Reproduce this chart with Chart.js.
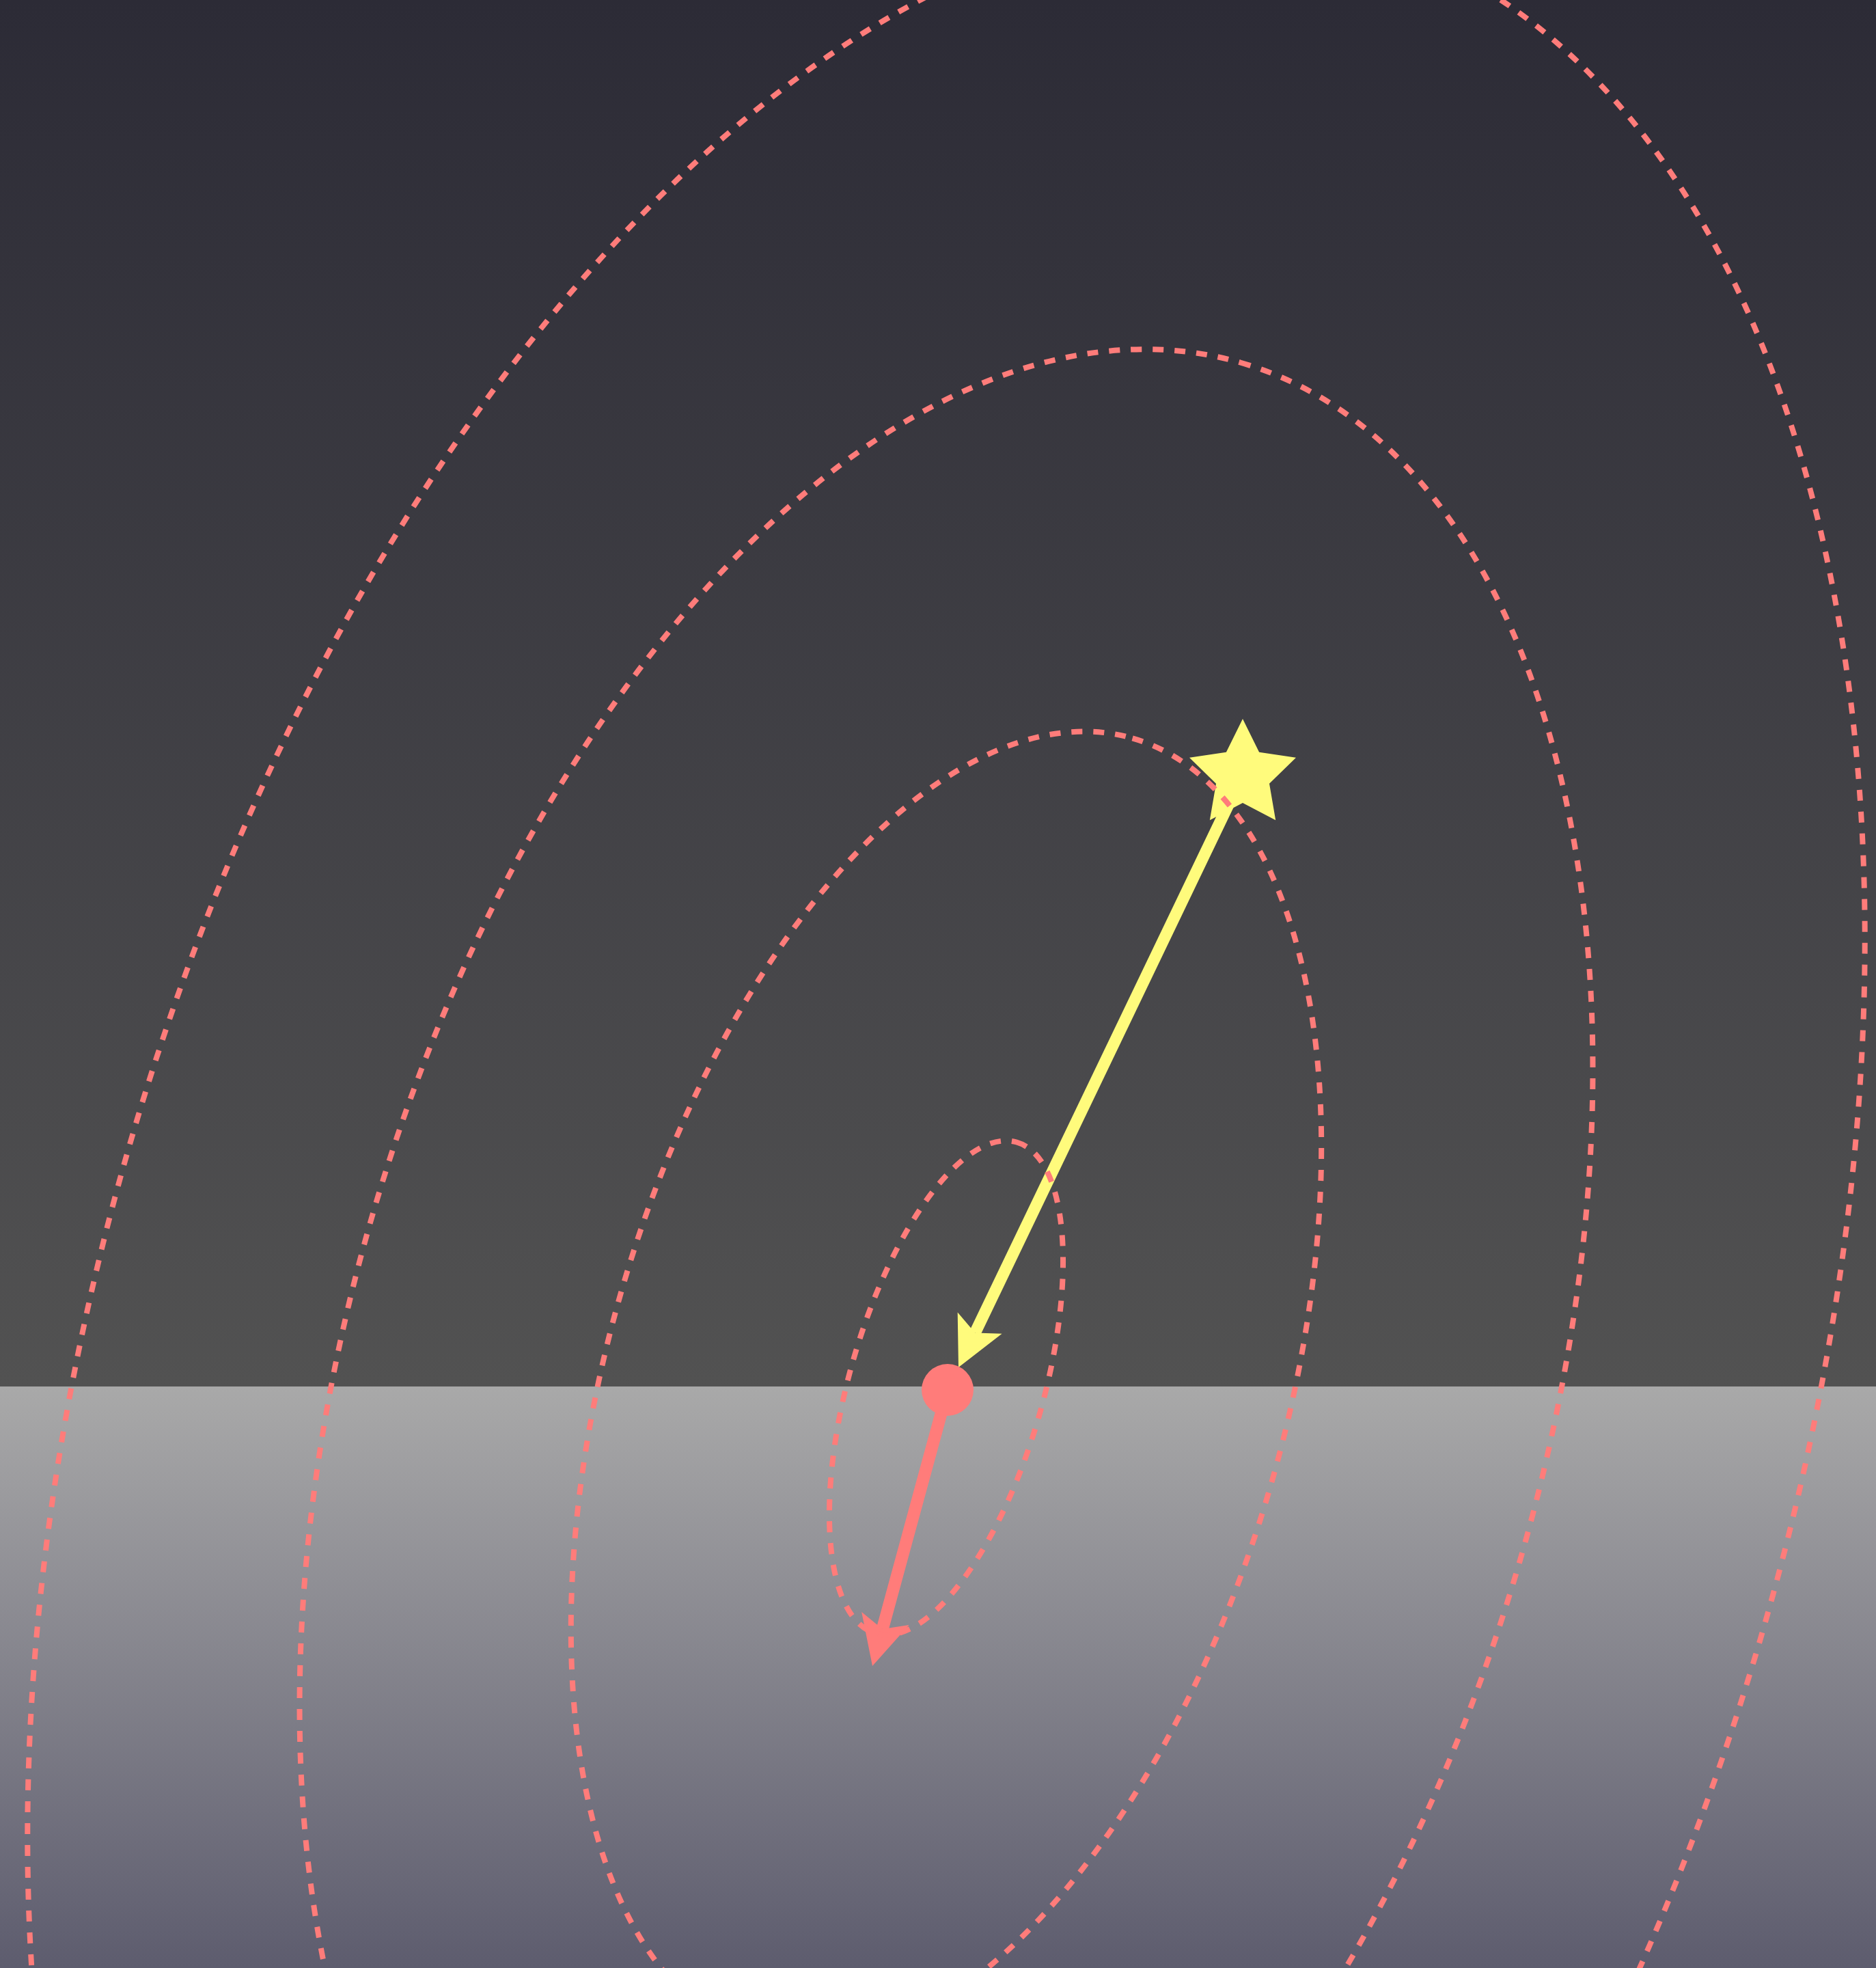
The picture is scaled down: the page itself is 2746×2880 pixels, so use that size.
<!DOCTYPE html>
<html>
<head>
<meta charset="utf-8">
<script src="https://cdn.jsdelivr.net/npm/chart.js@4.4.1/dist/chart.umd.min.js"></script>
<style>
    html, body { margin: 0; padding: 0; background: #2c2b36; }
    canvas { display: block; }
</style>
</head>
<body>
<canvas id="chart" width="2746" height="2880"></canvas>
<script>
// Data space: minimum sits near the origin, horizon at y = 0
const xRange = [-1386, 1360];
const yRange = [-851, 2029];

// Contour ellipses around the minimum (semi-axes, tilt of major axis in degrees)
const contourCenter = [-1, -2];
const contourMajor = [374, 989, 1561, 2211];
const contourMinor = [142, 496, 877, 1247];
const contourTilt = [74, 74, 74, 74];

// Points
const startPoint = [433, 895];      // star
const stepTip = [17, 28];           // yellow arrow tip
const minimumPoint = [1, -5];       // red dot
const gradientTip = [-109, -409];   // red arrow tip

const horizonY = 0;

const yellow = '#fffb7c';
const salmon = '#ff7c7a';

// Star image used as point style
function makeStar(outer, inner, color) {
    const c = document.createElement('canvas');
    const size = Math.ceil(outer * 2 + 4);
    c.width = size;
    c.height = size;
    const g = c.getContext('2d');
    g.fillStyle = color;
    g.beginPath();
    for (let i = 0; i < 10; i++) {
        const r = i % 2 === 0 ? outer : inner;
        const a = -Math.PI / 2 + i * Math.PI / 5;
        const px = size / 2 + r * Math.cos(a);
        const py = size / 2 + r * Math.sin(a);
        if (i === 0) g.moveTo(px, py); else g.lineTo(px, py);
    }
    g.closePath();
    g.fill();
    return c;
}

const starImage = makeStar(82, 41, yellow);

const headLength = 72;
const headHalfWidth = 36;
const headNotch = 56;

function arrowGeometry(chart, index) {
    const pts = chart.data.datasets[index].data;
    const xs = chart.scales.x, ys = chart.scales.y;
    const sx = xs.getPixelForValue(pts[0].x), sy = ys.getPixelForValue(pts[0].y);
    const tx = xs.getPixelForValue(pts[1].x), ty = ys.getPixelForValue(pts[1].y);
    const len = Math.hypot(tx - sx, ty - sy);
    const ux = (tx - sx) / len, uy = (ty - sy) / len;
    return { tx, ty, ux, uy, nx: -uy, ny: ux };
}

const diagramPlugin = {
    id: 'diagram',
    beforeDraw(chart) {
        const ctx = chart.ctx;
        const h = chart.scales.y.getPixelForValue(horizonY);
        const w = chart.width, H = chart.height;
        ctx.save();
        let g = ctx.createLinearGradient(0, 0, 0, h);
        g.addColorStop(0, '#2c2b36');
        g.addColorStop(1, '#525252');
        ctx.fillStyle = g;
        ctx.fillRect(0, 0, w, h);
        g = ctx.createLinearGradient(0, h, 0, H);
        g.addColorStop(0, '#a9a9a9');
        g.addColorStop(1, '#5d5c6e');
        ctx.fillStyle = g;
        ctx.fillRect(0, h, w, H - h);
        ctx.restore();
    },
    beforeDatasetDraw(chart, args) {
        const ds = chart.data.datasets[args.index];
        if (!ds.arrow) return;
        // cut the shaft at the arrowhead notch
        const a = arrowGeometry(chart, args.index);
        const bx = a.tx - a.ux * headNotch, by = a.ty - a.uy * headNotch;
        const big = 6000;
        const ctx = chart.ctx;
        ctx.save();
        ctx.beginPath();
        ctx.moveTo(bx + a.nx * big, by + a.ny * big);
        ctx.lineTo(bx - a.nx * big, by - a.ny * big);
        ctx.lineTo(bx - a.nx * big - a.ux * big, by - a.ny * big - a.uy * big);
        ctx.lineTo(bx + a.nx * big - a.ux * big, by + a.ny * big - a.uy * big);
        ctx.closePath();
        ctx.clip();
    },
    afterDatasetDraw(chart, args) {
        const ds = chart.data.datasets[args.index];
        if (!ds.arrow) return;
        const ctx = chart.ctx;
        ctx.restore();
        const a = arrowGeometry(chart, args.index);
        ctx.save();
        ctx.fillStyle = ds.borderColor;
        ctx.beginPath();
        ctx.moveTo(a.tx, a.ty);
        ctx.lineTo(a.tx - a.ux * headLength + a.nx * headHalfWidth, a.ty - a.uy * headLength + a.ny * headHalfWidth);
        ctx.lineTo(a.tx - a.ux * headNotch, a.ty - a.uy * headNotch);
        ctx.lineTo(a.tx - a.ux * headLength - a.nx * headHalfWidth, a.ty - a.uy * headLength - a.ny * headHalfWidth);
        ctx.closePath();
        ctx.fill();
        ctx.restore();
    },
    afterDatasetsDraw(chart) {
        const ctx = chart.ctx;
        const xs = chart.scales.x, ys = chart.scales.y;
        const cx = contourCenter[0], cy = contourCenter[1];
        const px = xs.getPixelForValue(cx), py = ys.getPixelForValue(cy);
        ctx.save();
        ctx.strokeStyle = salmon;
        ctx.lineWidth = 8;
        ctx.setLineDash([16, 16]);
        for (let i = 0; i < contourMajor.length; i++) {
            const t = contourTilt[i] * Math.PI / 180;
            const mx = xs.getPixelForValue(cx + contourMajor[i] * Math.cos(t));
            const my = ys.getPixelForValue(cy + contourMajor[i] * Math.sin(t));
            const nx = xs.getPixelForValue(cx - contourMinor[i] * Math.sin(t));
            const ny = ys.getPixelForValue(cy + contourMinor[i] * Math.cos(t));
            const rx = Math.hypot(mx - px, my - py);
            const ry = Math.hypot(nx - px, ny - py);
            const rot = Math.atan2(my - py, mx - px);
            ctx.beginPath();
            ctx.ellipse(px, py, rx, ry, rot, 0, Math.PI * 2);
            ctx.stroke();
        }
        ctx.restore();
    }
};

const ctx = document.getElementById('chart').getContext('2d');

const chartInstance = new Chart(ctx, {
    type: 'scatter',
    data: {
        datasets: [
            {
                label: 'minimum',
                data: [{ x: minimumPoint[0], y: minimumPoint[1] }],
                pointRadius: 38,
                pointBackgroundColor: salmon,
                pointBorderWidth: 0,
                order: 1
            },
            {
                label: 'start',
                data: [{ x: startPoint[0], y: startPoint[1] }],
                pointStyle: starImage,
                order: 2
            },
            {
                label: 'step',
                arrow: true,
                data: [{ x: startPoint[0], y: startPoint[1] }, { x: stepTip[0], y: stepTip[1] }],
                showLine: true,
                borderColor: yellow,
                borderWidth: 17,
                pointRadius: 0,
                order: 3
            },
            {
                label: 'gradient',
                arrow: true,
                data: [{ x: minimumPoint[0], y: minimumPoint[1] }, { x: gradientTip[0], y: gradientTip[1] }],
                showLine: true,
                borderColor: salmon,
                borderWidth: 18,
                pointRadius: 0,
                order: 4
            }
        ]
    },
    options: {
        responsive: false,
        maintainAspectRatio: false,
        devicePixelRatio: 1,
        animation: false,
        layout: { padding: 0, autoPadding: false },
        plugins: {
            legend: { display: false },
            tooltip: { enabled: false }
        },
        scales: {
            x: { type: 'linear', min: xRange[0], max: xRange[1], display: false },
            y: { type: 'linear', min: yRange[0], max: yRange[1], display: false }
        }
    },
    plugins: [diagramPlugin]
});
</script>
</body>
</html>
